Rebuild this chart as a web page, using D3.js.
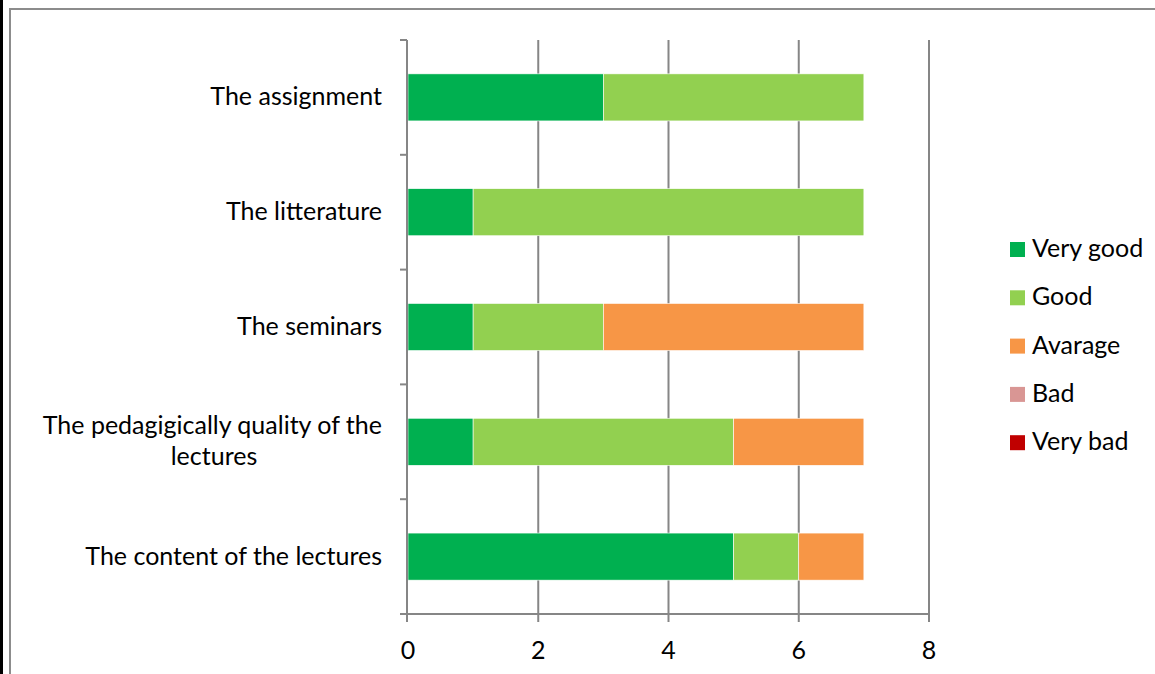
<!DOCTYPE html>
<html><head><meta charset="utf-8">
<script src="https://cdn.jsdelivr.net/npm/d3@7"></script>
<style>html,body{margin:0;padding:0;background:#fff;}svg{display:block;}</style>
</head><body>
<svg id="chart" width="1155" height="674"></svg>
<script>
const categories = ["The assignment", "The litterature", "The seminars", "The pedagigically quality of the lectures", "The content of the lectures"];
const categoryLines = [["The assignment"], ["The litterature"], ["The seminars"], ["The pedagigically quality of the", "lectures"], ["The content of the lectures"]];
const seriesNames = ["Very good", "Good", "Avarage", "Bad", "Very bad"];
const veryGood = [3, 1, 1, 1, 5];
const good = [4, 6, 2, 4, 1];
const average = [0, 0, 4, 2, 1];
const bad = [0, 0, 0, 0, 0];
const veryBad = [0, 0, 0, 0, 0];
const xTicks = [0, 2, 4, 6, 8];
const colors = ["#00B050", "#92D050", "#F79646", "#D99694", "#C00000"];

const seriesValues = [veryGood, good, average, bad, veryBad];
const rows = categories.map((c, i) => {
  const r = {cat: c};
  seriesNames.forEach((s, j) => r[s] = seriesValues[j][i]);
  return r;
});

const svg = d3.select("#chart");
const font = "Lato, Carlito, sans-serif";
const fs = 25;

// frame
svg.append("rect").attr("x", 0).attr("y", 0).attr("width", 3).attr("height", 674).attr("fill", "#000");
svg.append("path").attr("d", "M10,674 V9 H1155").attr("fill", "none").attr("stroke", "#8c8c8c").attr("stroke-width", 2);

const x0 = 408, x1 = 929, yTop = 40, yBot = 614;
const x = d3.scaleLinear().domain([0, 8]).range([x0, x1]);
const y = d3.scaleBand().domain(categories).range([yTop, yBot]).paddingInner(0.59).paddingOuter(0.295);

const gridColor = "#868686";
// gridlines
svg.append("g").selectAll("line").data(xTicks.slice(1)).join("line")
  .attr("x1", d => x(d)).attr("x2", d => x(d)).attr("y1", yTop).attr("y2", yBot)
  .attr("stroke", gridColor).attr("stroke-width", 2);

// bars
const stack = d3.stack().keys(seriesNames)(rows);
svg.append("g").selectAll("g").data(stack).join("g")
  .attr("fill", (d, i) => colors[i])
  .selectAll("rect").data(d => d.filter(p => p[1] - p[0] > 0)).join("rect")
  .attr("x", d => x(d[0])).attr("width", d => x(d[1]) - x(d[0]))
  .attr("y", d => y(d.data.cat)).attr("height", y.bandwidth())
  .attr("stroke", "#fff").attr("stroke-width", 0.6);

// y axis
const yAxis = svg.append("g");
yAxis.append("line").attr("x1", x0 - 1).attr("x2", x0 - 1).attr("y1", yTop).attr("y2", yBot + 8)
  .attr("stroke", gridColor).attr("stroke-width", 2);
const bandEdges = d3.range(categories.length + 1).map(i => yTop + i * (yBot - yTop) / categories.length);
yAxis.selectAll("line.t").data(bandEdges).join("line").attr("class", "t")
  .attr("x1", x0 - 8).attr("x2", x0 - 1).attr("y1", d => d).attr("y2", d => d)
  .attr("stroke", gridColor).attr("stroke-width", 2);

// x axis
const xAxis = svg.append("g");
xAxis.append("line").attr("x1", x0 - 8).attr("x2", x1 + 1).attr("y1", yBot).attr("y2", yBot)
  .attr("stroke", gridColor).attr("stroke-width", 2);
xAxis.selectAll("line.t").data(xTicks).join("line").attr("class", "t")
  .attr("x1", d => x(d) - (d === 0 ? 1 : 0)).attr("x2", d => x(d) - (d === 0 ? 1 : 0)).attr("y1", yBot).attr("y2", yBot + 8)
  .attr("stroke", gridColor).attr("stroke-width", 2);
xAxis.selectAll("text").data(xTicks).join("text")
  .attr("x", d => x(d)).attr("y", 659).attr("text-anchor", "middle")
  .attr("font-family", font).attr("font-size", fs).attr("fill", "#000").text(d => d);

// category labels
const lab = svg.append("g");
categories.forEach((c, i) => {
  const lines = categoryLines[i];
  const cy = y(c) + y.bandwidth() / 2;
  const lh = 31;
  lines.forEach((l, k) => {
    lab.append("text")
      .attr("x", lines.length > 1 && k === 1 ? 214 : 382)
      .attr("y", cy + (k - (lines.length - 1) / 2) * lh + 8)
      .attr("text-anchor", lines.length > 1 && k === 1 ? "middle" : "end")
      .attr("font-family", font).attr("font-size", fs).attr("fill", "#000").text(l);
  });
});

// legend
const leg = svg.append("g");
seriesNames.forEach((s, i) => {
  const ly = 242 + i * 48.3;
  leg.append("rect").attr("x", 1010).attr("y", ly).attr("width", 15).attr("height", 15).attr("fill", colors[i]);
  leg.append("text").attr("x", 1032).attr("y", ly + 15).attr("font-family", font).attr("font-size", fs)
    .attr("fill", "#000").text(s);
});
</script>
</body></html>
